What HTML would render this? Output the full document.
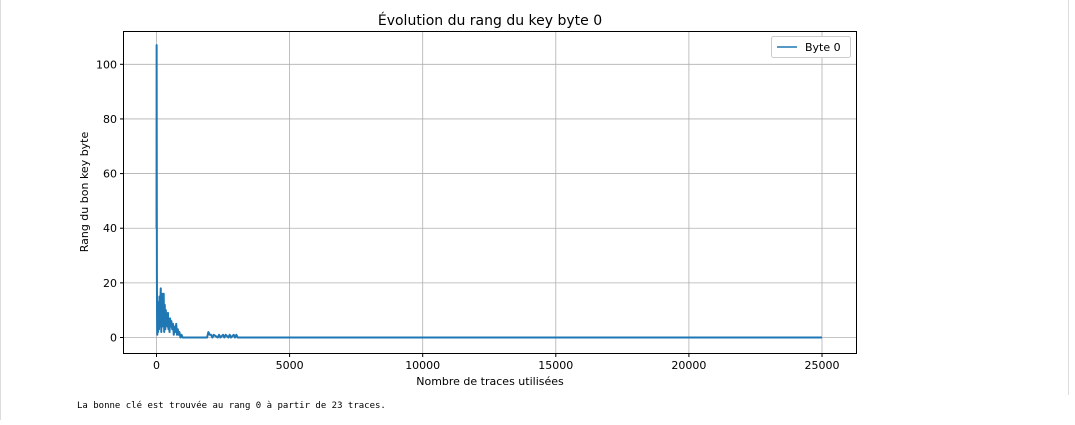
<!DOCTYPE html>
<html><head><meta charset="utf-8"><style>
body{margin:0;background:#fff;width:1075px;height:420px;overflow:hidden;font-family:"Liberation Sans","DejaVu Sans",sans-serif}
svg text{font-family:"DejaVu Sans","Liberation Sans",sans-serif}
</style></head><body>
<svg width="1075" height="420">
<line x1="0.5" y1="0" x2="0.5" y2="420" stroke="#ddd"/>
<line x1="1068.5" y1="0" x2="1068.5" y2="395" stroke="#ddd"/>
<text x="490" y="25" font-size="14" text-anchor="middle" fill="#000">Évolution du rang du key byte 0</text>
<g id="grid"></g>
<g id="ticks"></g>
<path id="line" fill="none" stroke="#1f77b4" stroke-width="2" stroke-linejoin="round"/>
<rect x="123.5" y="31.5" width="733" height="322" fill="none" stroke="#000" stroke-width="1"/>
<text x="490" y="385" font-size="11" text-anchor="middle">Nombre de traces utilisées</text>
<text transform="translate(88,192) rotate(-90)" font-size="11" text-anchor="middle">Rang du bon key byte</text>
<g>
<rect x="771.5" y="36.5" width="79" height="21" rx="2" fill="#fff" stroke="#ccc"/>
<line x1="777" y1="47" x2="797" y2="47" stroke="#1f77b4" stroke-width="1.5"/>
<text x="805" y="51" font-size="11">Byte 0</text>
</g>
<text x="77" y="408" font-size="9" style="font-family:'DejaVu Sans Mono','Liberation Mono',monospace">La bonne clé est trouvée au rang 0 à partir de 23 traces.</text>
</svg>
<script>
const xTicks=[0,5000,10000,15000,20000,25000];
const yTicks=[0,20,40,60,80,100];
const traces=[1,5,10,15,20,25,30,40,50,60,70,80,95,110,125,140,160,180,200,215,230,250,270,290,310,330,350,370,390,410,430,450,470,490,510,530,560,590,620,650,680,710,740,770,800,830,860,900,940,980,1000,1900,1950,2000,2050,2100,2150,2300,2350,2400,2500,2550,2600,2700,2750,2800,2900,2950,3000,3050,25000];
const ranks=[40,107,60,23,10,3,1,5,13,2,12,8,3,15,4,10,18,2,13,4,16,6,16,2,12,3,10,5,8,4,9,3,6,2,7,4,6,3,5,1,4,2,5,1,3,1,2,0,1,0,0,0,2,1,1,0,1,0,1,0,1,0,1,0,1,0,1,0,1,0,0];
const x=v=>156.5+v*(822-156.5)/25000;
const y=v=>337.5-v*(337.5-64.3)/100;
const ns='http://www.w3.org/2000/svg';
const grid=document.getElementById('grid'),ticks=document.getElementById('ticks');
function mk(t,a,p){const e=document.createElementNS(ns,t);for(const k in a)e.setAttribute(k,a[k]);p.appendChild(e);return e;}
xTicks.forEach(v=>{
 const g=mk('line',{x1:x(v),x2:x(v),y1:32,y2:353,stroke:'#b0b0b0','stroke-width':0.8},grid);
 
 
 mk('line',{x1:x(v),x2:x(v),y1:353,y2:357,stroke:'#000'},ticks);
 const t=mk('text',{x:x(v),y:369,'font-size':11,'text-anchor':'middle'},ticks);t.textContent=v;
 
 
});
yTicks.forEach(v=>{
 const g=mk('line',{x1:124,x2:857,y1:y(v),y2:y(v),stroke:'#b0b0b0','stroke-width':0.8},grid);
 
 
 mk('line',{x1:120,x2:124,y1:y(v),y2:y(v),stroke:'#000'},ticks);
 const t=mk('text',{x:117,y:y(v)+4,'font-size':11,'text-anchor':'end'},ticks);t.textContent=v;
 
 
});
document.getElementById('line').setAttribute('d',traces.map((t,i)=>(i?'L':'M')+x(t).toFixed(2)+','+y(ranks[i]).toFixed(2)).join(''));
</script>
</body></html>
